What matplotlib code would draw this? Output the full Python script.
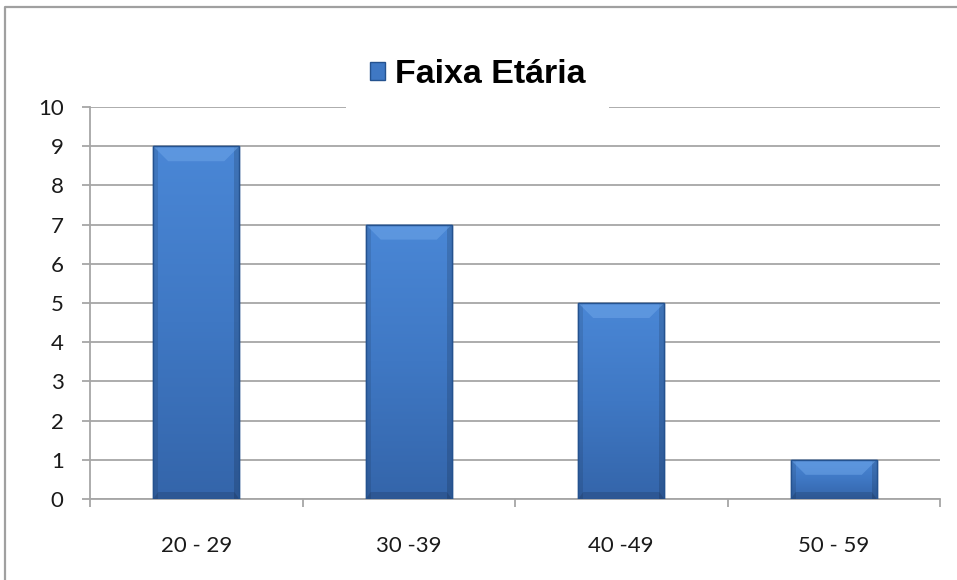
import numpy as np
import matplotlib
matplotlib.use('Agg')
import matplotlib.pyplot as plt
from matplotlib.colors import LinearSegmentedColormap
from matplotlib.patches import Polygon, Rectangle
from matplotlib.lines import Line2D

# data
categories = ['20 - 29', '30 -39', '40 -49', '50 - 59']
values = [9, 7, 5, 1]
series_name = 'Faixa Etária'

W, H = 957, 580
fig = plt.figure(figsize=(W / 100, H / 100), dpi=100)
ax = fig.add_axes([90 / W, 1 - 499 / H, 850 / W, 392 / H])

ax.set_xlim(-0.5, len(categories) - 0.5)
ax.set_ylim(0, 10)

# pixel -> data unit helpers
px_x = (len(categories)) / 850
px_y = 10 / 392

grid_col = '#a6a6a6'
ax.set_yticks(range(0, 11))
ax.yaxis.grid(True, color=grid_col, linewidth=1.3, zorder=0)
ax.set_axisbelow(True)
for s in ['top', 'right']:
    ax.spines[s].set_visible(False)
for s in ['left', 'bottom']:
    ax.spines[s].set_color(grid_col)
    ax.spines[s].set_linewidth(1.3)

ax.tick_params(axis='y', length=6, width=1.3, color=grid_col, pad=13,
               labelsize=16, labelcolor='#1a1a1a')
ax.set_xticks(range(len(categories)))
ax.set_xticklabels(categories)
ax.tick_params(axis='x', which='major', length=0, pad=27,
               labelsize=16, labelcolor='#1a1a1a')
ax.set_xticks(np.arange(-0.5, len(categories)), minor=True)
ax.tick_params(axis='x', which='minor', length=6, width=1.3, color=grid_col)
for lab in ax.get_xticklabels() + ax.get_yticklabels():
    lab.set_fontfamily('Lato')

# bevelled bars
cmap = LinearSegmentedColormap.from_list('bar', ['#3465aa', '#3f78c4', '#4a87d6'])
grad = np.linspace(1, 0, 256).reshape(-1, 1)
bw = 0.405
bars = ax.bar(range(len(values)), values, width=bw, color='#3f78c4',
              edgecolor='#24528f', linewidth=1.0, zorder=3, label=series_name)
for b in bars:
    x0 = b.get_x()
    x1 = x0 + b.get_width()
    h = b.get_height()
    im = ax.imshow(grad, extent=(x0, x1, 0, h), aspect='auto', cmap=cmap,
                   zorder=3.1, interpolation='bilinear')
    im.set_clip_path(b)
    t = 15
    s = 5
    # side shading
    ax.add_patch(Rectangle((x0, 0), s * px_x, h, color='black', alpha=0.10,
                           lw=0, zorder=3.2))
    ax.add_patch(Rectangle((x1 - s * px_x, 0), s * px_x, h, color='black',
                           alpha=0.14, lw=0, zorder=3.2))
    ax.add_patch(Polygon([(x0, 0), (x1, 0), (x1 - s * px_x, 7 * px_y),
                          (x0 + s * px_x, 7 * px_y)], closed=True,
                         color='black', alpha=0.13, lw=0, zorder=3.3))
    # top bevel
    ax.add_patch(Polygon([(x0, h), (x1, h), (x1 - t * px_x, h - t * px_y),
                          (x0 + t * px_x, h - t * px_y)], closed=True,
                         color='#6aa2e6', alpha=0.6, lw=0, zorder=3.4))
    ax.add_patch(Rectangle((x0, 0), x1 - x0, h, fill=False,
                           edgecolor='#24528f', lw=1.0, zorder=3.5))

# legend on top of the plot, covering the top gridline
leg = ax.legend(loc='center', bbox_to_anchor=(0.456, 1.082), frameon=True,
                handlelength=0.44, handleheight=0.44, handletextpad=0.3,
                borderpad=0.7, fancybox=False,
                prop={'family': 'Liberation Sans', 'weight': 'bold', 'size': 24.5})
leg.get_frame().set_facecolor('white')
leg.get_frame().set_edgecolor('none')
leg.get_frame().set_alpha(1)
for hnd in leg.legend_handles:
    hnd.set_facecolor('#3f78c4')
    hnd.set_edgecolor('#24528f')

# outer chart border (left and top edges visible)
bx = 5 / W
by = 1 - 7 / H
fig.add_artist(Line2D([bx, bx, 1], [0, by, by], transform=fig.transFigure,
                      color='#a0a0a0', linewidth=1.6))

fig.savefig('out.png', dpi=100)
